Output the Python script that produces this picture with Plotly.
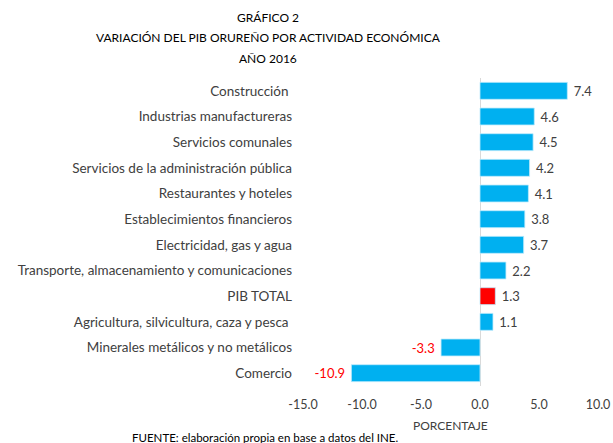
import plotly.graph_objects as go

categories = [
    "Construcción ",
    "Industrias manufactureras",
    "Servicios comunales",
    "Servicios de la administración pública",
    "Restaurantes y hoteles",
    "Establecimientos financieros",
    "Electricidad, gas y agua",
    "Transporte, almacenamiento y comunicaciones",
    "PIB TOTAL",
    "Agricultura, silvicultura, caza y pesca ",
    "Minerales metálicos y no metálicos",
    "Comercio",
]
values = [7.4, 4.6, 4.5, 4.2, 4.1, 3.8, 3.7, 2.2, 1.3, 1.1, -3.3, -10.9]
x_ticks = [-15, -10, -5, 0, 5, 10]
title_lines = ["GRÁFICO 2", "VARIACIÓN DEL PIB ORUREÑO POR ACTIVIDAD ECONÓMICA", "AÑO 2016"]
source_text = "FUENTE: elaboración propia en base a datos del INE."
x_title = "PORCENTAJE"

BLUE = "#00B0F0"
RED = "#FF0000"
DARK = "#404040"
FONT = "Lato"

W, H = 613, 443
ML, MR, MT, MB = 303, 15, 78, 57
PW, PH = W - ML - MR, H - MT - MB


def px_to_paper_x(px):
    return (px - ML) / PW


def px_to_paper_y(py):
    return (H - MB - py) / PH


bar_colors = [RED if c.strip() == "PIB TOTAL" else BLUE for c in categories]
label_colors = [RED if v < 0 else DARK for v in values]
labels = [(f"{v:.1f} " if v < 0 else f" {v:.1f}") for v in values]

fig = go.Figure(
    go.Bar(
        x=values,
        y=categories,
        orientation="h",
        marker=dict(color=bar_colors, line=dict(color="#BFEBFB", width=0.8)),
        width=0.66,
        text=labels,
        textposition="outside",
        textfont=dict(color=label_colors, size=13, family=FONT),
        cliponaxis=False,
    )
)

annotations = []
for line, py in zip(title_lines, [17, 38, 58]):
    annotations.append(
        dict(
            text=line,
            xref="paper",
            yref="paper",
            x=px_to_paper_x(268),
            y=px_to_paper_y(py),
            xanchor="center",
            yanchor="middle",
            showarrow=False,
            font=dict(family=FONT, size=12, color="black"),
        )
    )
annotations.append(
    dict(
        text=x_title,
        xref="paper",
        yref="paper",
        x=0.5,
        y=px_to_paper_y(425),
        xanchor="center",
        yanchor="middle",
        showarrow=False,
        font=dict(family=FONT, size=12, color=DARK),
    )
)
annotations.append(
    dict(
        text=source_text,
        xref="paper",
        yref="paper",
        x=px_to_paper_x(130),
        y=px_to_paper_y(437),
        xanchor="left",
        yanchor="middle",
        showarrow=False,
        font=dict(family=FONT, size=11.5, color="black"),
    )
)

fig.update_layout(
    width=W,
    height=H,
    autosize=False,
    paper_bgcolor="white",
    plot_bgcolor="white",
    margin=dict(l=ML, r=MR, t=MT, b=MB, autoexpand=False),
    font=dict(family=FONT, color=DARK, size=12),
    showlegend=False,
    xaxis=dict(
        range=[-15, 10],
        tickvals=x_ticks,
        ticktext=[f"{t:.1f}" for t in x_ticks],
        showgrid=False,
        zeroline=True,
        zerolinecolor="#D9D9D9",
        zerolinewidth=1,
        showline=False,
        ticks="",
        ticklabelstandoff=9,
        tickfont=dict(size=12.5, color=DARK),
        automargin=False,
        fixedrange=True,
    ),
    yaxis=dict(
        autorange="reversed",
        showgrid=False,
        showline=False,
        zeroline=False,
        ticks="",
        ticklabelstandoff=10,
        tickfont=dict(size=13.5, color=DARK),
        automargin=False,
        fixedrange=True,
    ),
    annotations=annotations,
)

fig.write_html(
    "out.html",
    config={"displayModeBar": False, "responsive": False},
    post_script="document.body.style.margin='0px';document.body.style.overflow='hidden';",
)
